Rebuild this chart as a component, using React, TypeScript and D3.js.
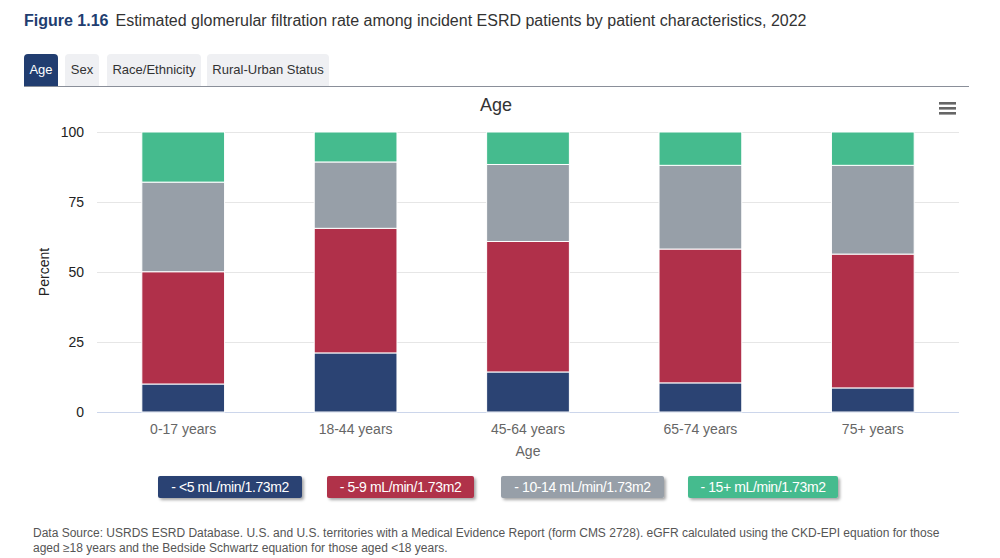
import React from "react";
import * as d3 from "d3";

const categories = ["0-17 years", "18-44 years", "45-64 years", "65-74 years", "75+ years"];
const seriesNames = ["<5 mL/min/1.73m2", "5-9 mL/min/1.73m2", "10-14 mL/min/1.73m2", "15+ mL/min/1.73m2"];
const lt5 = [10.0, 21.1, 14.3, 10.4, 8.6];
const r5to9 = [40.1, 44.5, 46.6, 47.8, 47.8];
const r10to14 = [32.0, 23.7, 27.5, 29.9, 31.7];
const ge15 = [17.9, 10.7, 11.6, 11.9, 11.9];
const yTicks = [0, 25, 50, 75, 100];
const tabs = ["Age", "Sex", "Race/Ethnicity", "Rural-Urban Status"];
const colors = ["#2b4373", "#b0304a", "#979fa8", "#45bb8e"];

const FONT = "'Liberation Sans', Arial, sans-serif";

export default function App() {
  const W = 1000, H = 558;
  const plot = { left: 97, right: 959, top: 132, bottom: 412 };
  const x = d3.scaleBand<string>().domain(categories).range([plot.left, plot.right]).paddingInner(0.52).paddingOuter(0.26);
  const y = d3.scaleLinear().domain([0, 100]).range([plot.bottom, plot.top]);

  const table = categories.map((c, i) => ({ cat: c, s0: lt5[i], s1: r5to9[i], s2: r10to14[i], s3: ge15[i] }));
  const stacked = d3.stack<any>().keys(["s0", "s1", "s2", "s3"])(table);

  const tabLayout = [
    { x: 24, w: 34 },
    { x: 65, w: 34 },
    { x: 107, w: 94 },
    { x: 207, w: 122 },
  ];
  const legendLayout = [
    { x: 158, w: 144 },
    { x: 327, w: 147 },
    { x: 501, w: 163 },
    { x: 688, w: 150 },
  ];

  return (
    <svg width={W} height={H} style={{ position: "absolute", left: 0, top: 0, fontFamily: FONT }}>
      <defs>
        <filter id="shadow" x="-10%" y="-20%" width="130%" height="160%">
          <feDropShadow dx="2" dy="2" stdDeviation="1.5" floodColor="#000" floodOpacity="0.35" />
        </filter>
      </defs>
      <rect width={W} height={H} fill="#fff" />
      {/* Title */}
      <text x={24} y={26} fontSize={16} fill="#333">
        <tspan fontWeight="bold" fill="#213d70">Figure 1.16</tspan>
        <tspan dx={7}>Estimated glomerular filtration rate among incident ESRD patients by patient characteristics, 2022</tspan>
      </text>
      {/* Tabs */}
      {tabs.map((t, i) => {
        const L = tabLayout[i];
        const active = i === 0;
        return (
          <g key={t}>
            <path
              d={`M${L.x},86 V${58} Q${L.x},54 ${L.x + 4},54 H${L.x + L.w - 4} Q${L.x + L.w},54 ${L.x + L.w},58 V86 Z`}
              fill={active ? "#213d70" : "#eff0f3"}
            />
            <text x={L.x + L.w / 2} y={74} fontSize={13} textAnchor="middle" fill={active ? "#fff" : "#333"}>{t}</text>
          </g>
        );
      })}
      <line x1={24} x2={969} y1={86.5} y2={86.5} stroke="#8a8f99" strokeWidth={1.2} />
      {/* Chart title */}
      <text x={496} y={111} fontSize={18} textAnchor="middle" fill="#333">Age</text>
      {/* Hamburger */}
      {[0, 5, 10].map((d) => (
        <rect key={d} x={939} y={102 + d} width={17} height={2.6} fill="#666" />
      ))}
      {/* Grid */}
      {yTicks.map((t) => (
        <g key={t}>
          <line x1={plot.left} x2={plot.right} y1={Math.round(y(t)) + 0.5} y2={Math.round(y(t)) + 0.5} stroke={t === 0 ? "#ccd6eb" : "#e6e6e6"} />
          <text x={84} y={y(t) + 5} fontSize={14} textAnchor="end" fill="#222">{t}</text>
        </g>
      ))}
      {/* Bars */}
      {stacked.map((layer, si) => (
        <g key={si}>
          {layer.map((d, ci) => (
            <rect
              key={ci}
              x={x(categories[ci])}
              width={x.bandwidth()}
              y={y(d[1])}
              height={y(d[0]) - y(d[1])}
              fill={colors[si]}
              stroke="#fff"
              strokeWidth={1}
            />
          ))}
        </g>
      ))}
      {/* X labels */}
      {categories.map((c) => (
        <text key={c} x={(x(c) as number) + x.bandwidth() / 2} y={434} fontSize={14} textAnchor="middle" fill="#666">{c}</text>
      ))}
      <text x={528} y={456} fontSize={14} textAnchor="middle" fill="#666">Age</text>
      <text transform={`translate(49,${272}) rotate(-90)`} fontSize={14} textAnchor="middle" fill="#222">Percent</text>
      {/* Legend */}
      {seriesNames.map((s, i) => {
        const L = legendLayout[i];
        return (
          <g key={s}>
            <rect x={L.x} y={476} width={L.w} height={22} rx={2} fill={colors[i]} filter="url(#shadow)" />
            <text x={L.x + L.w / 2} y={492} fontSize={14} textAnchor="middle" fill="#fff" letterSpacing={-0.4}>- {s}</text>
          </g>
        );
      })}
      {/* Footnote */}
      <text x={33} y={537} fontSize={12} fill="#555">
        Data Source: USRDS ESRD Database. U.S. and U.S. territories with a Medical Evidence Report (form CMS 2728). eGFR calculated using the CKD-EPI equation for those
      </text>
      <text x={33} y={552} fontSize={12} fill="#555">aged ≥18 years and the Bedside Schwartz equation for those aged &lt;18 years.</text>
    </svg>
  );
}
